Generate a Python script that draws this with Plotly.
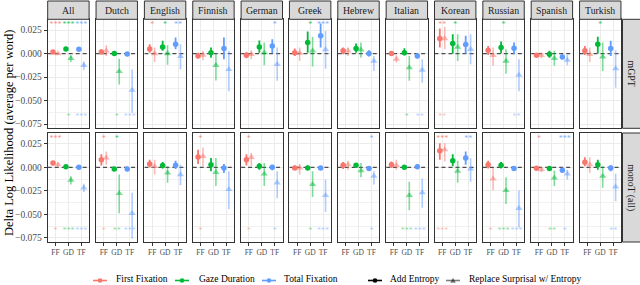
import plotly.graph_objects as go

# ---------------- data ----------------
LANGS = ["All", "Dutch", "English", "Finnish", "German", "Greek", "Hebrew",
         "Italian", "Korean", "Russian", "Spanish", "Turkish"]
MEASURES = ["FF", "GD", "TF"]
MEASURE_NAMES = ["First Fixation", "Gaze Duration", "Total Fixation"]
MODELS = ["mGPT", "monoT (all)"]
TYPES = ["Add Entropy", "Replace Surprisal w/ Entropy"]
Y_TICKS = [-0.075, -0.05, -0.025, 0.0, 0.025]
X_RANGE = [0.4, 3.6]
Y_RANGE = [-0.0795, 0.0365]

# each row: [FF, GD, TF] per language
MGPT_ADD_EST = [[0.0018, 0.005, 0.0047], [0.0018, 0.0, -0.0004], [0.005, 0.007, 0.010],
                [-0.0025, 0.001, 0.0054], [-0.0018, 0.007, 0.008], [0.001, 0.0118, 0.019],
                [0.003, 0.0054, 0.0], [0.0, 0.001, -0.0025], [0.016, 0.0107, 0.0096],
                [0.0036, 0.0064, 0.0057], [-0.0018, -0.0007, -0.0036], [0.003, 0.010, 0.0054]]
MGPT_ADD_LO = [[0.0006, 0.0038, 0.0035], [-0.0007, -0.0018, -0.002], [0.001, 0.0029, 0.0046],
               [-0.005, -0.0043, -0.006], [-0.005, 0.001, 0.0004], [-0.0025, 0.001, 0.0064],
               [-0.0007, 0.001, -0.0032], [-0.0018, -0.0018, -0.005], [0.0064, 0.0, 0.0],
               [-0.0014, 0.0004, -0.0007], [-0.0036, -0.0043, -0.006], [-0.0014, 0.0, -0.0025]]
MGPT_ADD_HI = [[0.003, 0.0062, 0.006], [0.0046, 0.0018, 0.0012], [0.010, 0.0136, 0.017],
               [0.001, 0.0064, 0.017], [0.0018, 0.014, 0.0154], [0.0054, 0.0236, 0.032],
               [0.0064, 0.0107, 0.0036], [0.0018, 0.0057, 0.0], [0.0268, 0.0207, 0.019],
               [0.0082, 0.0129, 0.0118], [0.0, 0.003, -0.0007], [0.0082, 0.018, 0.0136]]

MGPT_REP_EST = [[0.0, -0.005, -0.0125], [0.003, -0.019, -0.039], [0.0, 0.0, -0.003],
                [-0.0015, -0.0125, -0.0168], [-0.0007, 0.001, -0.0114], [0.0004, 0.003, 0.0043],
                [0.003, 0.004, -0.008], [-0.006, -0.015, -0.0175], [0.016, 0.007, 0.0046],
                [-0.0018, -0.008, -0.0229], [-0.0018, -0.005, -0.007], [-0.0007, -0.0036, -0.016]]
MGPT_REP_LO = [[-0.001, -0.009, -0.0175], [-0.0025, -0.033, -0.063], [-0.009, -0.012, -0.017],
               [-0.007, -0.0286, -0.040], [-0.006, -0.0125, -0.029], [-0.008, -0.0136, -0.016],
               [-0.0025, -0.0043, -0.0186], [-0.0096, -0.029, -0.031], [0.0046, -0.008, -0.0114],
               [-0.013, -0.0214, -0.040], [-0.005, -0.013, -0.0125], [-0.009, -0.0186, -0.0364]]
MGPT_REP_HI = [[0.001, -0.002, -0.0085], [0.009, -0.0054, -0.0168], [0.0064, 0.009, 0.010],
               [0.003, -0.0007, 0.003], [0.0036, 0.0118, 0.0064], [0.0064, 0.018, 0.024],
               [0.0064, 0.0118, -0.0025], [-0.0018, -0.0025, -0.006], [0.0286, 0.0207, 0.0207],
               [0.0064, 0.0046, -0.006], [0.001, 0.003, -0.0014], [0.0064, 0.0118, 0.0036]]

MONO_ADD_EST = [[0.0046, 0.0007, 0.0], [0.0081, -0.0018, -0.0018], [0.0035, 0.0018, 0.0021],
                [0.0109, 0.0028, -0.0007], [0.0081, 0.001, 0.0], [-0.0007, -0.0007, -0.0007],
                [0.0021, 0.0021, -0.0014], [0.0028, 0.0, 0.0007], [0.0176, 0.007, 0.0099],
                [0.0028, 0.0021, -0.0014], [-0.001, -0.0014, -0.0032], [0.0053, 0.0028, -0.0007]]
MONO_ADD_LO = [[0.0028, -0.0007, -0.0012], [0.002, -0.0035, -0.003], [0.0, -0.0014, -0.0018],
               [0.0035, -0.0042, -0.006], [0.002, -0.0025, -0.0032], [-0.003, -0.003, -0.0025],
               [-0.0018, -0.0007, -0.0035], [-0.0007, -0.0021, -0.0018], [0.0081, 0.001, 0.0028],
               [-0.0014, -0.0014, -0.0032], [-0.0024, -0.0032, -0.005], [0.001, -0.0025, -0.0042]]
MONO_ADD_HI = [[0.0063, 0.002, 0.0012], [0.014, 0.0, -0.0006], [0.008, 0.0056, 0.007],
               [0.0187, 0.0099, 0.0035], [0.014, 0.0046, 0.0028], [0.002, 0.0018, 0.0011],
               [0.0056, 0.0046, 0.0007], [0.0063, 0.0021, 0.0035], [0.0257, 0.014, 0.0169],
               [0.007, 0.0056, 0.0004], [0.0004, 0.0004, -0.0014], [0.0106, 0.008, 0.0021]]

MONO_REP_EST = [[0.0028, -0.0137, -0.0218], [0.0099, -0.0278, -0.049], [0.001, -0.006, -0.0077],
                [0.0116, -0.0053, -0.0236], [0.0106, -0.007, -0.0165], [-0.0007, -0.0183, -0.030],
                [0.0028, -0.0035, -0.0095], [0.0021, -0.030, -0.027], [0.0187, -0.0042, -0.0018],
                [-0.0123, -0.0246, -0.0437], [-0.0025, -0.0113, -0.007], [0.0028, -0.0095, -0.0208]]
MONO_REP_LO = [[0.0004, -0.0183, -0.0264], [0.0028, -0.049, -0.076], [-0.0077, -0.0165, -0.019],
               [0.001, -0.020, -0.0447], [0.001, -0.020, -0.033], [-0.0077, -0.0317, -0.0475],
               [-0.0025, -0.0106, -0.0183], [-0.0025, -0.0458, -0.043], [0.0063, -0.0165, -0.0155],
               [-0.0243, -0.039, -0.064], [-0.005, -0.020, -0.013], [-0.006, -0.0218, -0.0359]]
MONO_REP_HI = [[0.0053, -0.0095, -0.0176], [0.0169, -0.0077, -0.027], [0.008, 0.001, 0.0028],
               [0.021, 0.0099, -0.0042], [0.0151, 0.0046, -0.0042], [0.0035, -0.0042, -0.013],
               [0.007, 0.0046, -0.0042], [0.008, -0.0155, -0.012], [0.0257, 0.007, 0.0099],
               [-0.0007, -0.0106, -0.0246], [0.0, -0.0035, -0.0025], [0.0106, 0.001, -0.007]]

# significance stars (number of '*'), per language [FF, GD, TF]
MGPT_ADD_STARS = [[3, 3, 3], [0, 0, 0], [1, 1, 2], [0, 0, 0], [0, 0, 1], [0, 1, 3],
                  [0, 0, 0], [0, 0, 0], [2, 1, 0], [0, 1, 0], [0, 0, 0], [0, 1, 0]]
MGPT_REP_STARS = [[0, 1, 3], [0, 1, 3], [0, 0, 0], [0, 0, 0], [0, 0, 0], [0, 0, 0],
                  [0, 0, 0], [0, 1, 2], [2, 0, 0], [0, 0, 2], [0, 0, 0], [0, 0, 0]]
MONO_ADD_STARS = [[3, 0, 0], [1, 1, 0], [0, 0, 0], [1, 0, 0], [1, 0, 0], [0, 0, 0],
                  [0, 0, 1], [0, 0, 0], [3, 0, 2], [0, 0, 0], [1, 0, 3], [0, 0, 0]]
MONO_REP_STARS = [[1, 3, 3], [1, 2, 3], [0, 0, 0], [1, 0, 0], [1, 0, 1], [0, 1, 3],
                  [0, 0, 1], [0, 3, 3], [3, 0, 0], [1, 3, 3], [0, 2, 1], [0, 0, 2]]
STAR_TOP = 0.0300
STAR_BOT = -0.0675

# ---------------- style / layout ----------------
W, H = 640, 285
FONT = "Liberation Serif"
COLORS = [(248, 118, 109), (0, 186, 56), (97, 156, 255)]
ALPHA = [1.0, 0.5]
SYMBOLS = ["circle", "triangle-up"]
MSIZE = [5.5, 6.5]
EWIDTH = [1.8, 1.6]
DODGE = [-0.19, 0.19]
PANEL_X0, PANEL_PITCH, PANEL_W = 47.7, 48.35, 41.4
ROW_TOP = [19.3, 133.0]
ROW_H = 109.0
STRIP_TOP = 1.0
RSTRIP_X0, RSTRIP_X1 = 622.5, 641.0
BORDER = "#333333"
GRID = "#EBEBEB"


def rgba(c, a):
    return "rgba(%d,%d,%d,%s)" % (c[0], c[1], c[2], a)


def px(x):
    return x / W


def py(y):
    return 1 - y / H


DATA = {
    (0, 0): (MGPT_ADD_EST, MGPT_ADD_LO, MGPT_ADD_HI, MGPT_ADD_STARS),
    (0, 1): (MGPT_REP_EST, MGPT_REP_LO, MGPT_REP_HI, MGPT_REP_STARS),
    (1, 0): (MONO_ADD_EST, MONO_ADD_LO, MONO_ADD_HI, MONO_ADD_STARS),
    (1, 1): (MONO_REP_EST, MONO_REP_LO, MONO_REP_HI, MONO_REP_STARS),
}

fig = go.Figure()
layout = dict(width=W, height=H, margin=dict(l=0, r=0, t=0, b=0), autosize=False,
              paper_bgcolor="white", plot_bgcolor="white", showlegend=False,
              font=dict(family=FONT, color="#1A1A1A"))
shapes, annotations = [], []

for r in range(2):
    for c in range(len(LANGS)):
        k = r * len(LANGS) + c + 1
        xs = "x" if k == 1 else "x%d" % k
        ys = "y" if k == 1 else "y%d" % k
        x0 = PANEL_X0 + c * PANEL_PITCH
        x1 = x0 + PANEL_W
        top = ROW_TOP[r]
        bot = top + ROW_H
        xa = dict(domain=[px(x0), px(x1)], anchor=ys, range=X_RANGE,
                  tickvals=[1, 2, 3], ticktext=MEASURES, showgrid=True,
                  gridcolor=GRID, gridwidth=1, zeroline=False, showline=True,
                  mirror=True, linecolor=BORDER, linewidth=1, fixedrange=True)
        if r == 1:
            xa.update(ticks="outside", ticklen=3, tickwidth=1, tickcolor=BORDER,
                      showticklabels=True,
                      tickfont=dict(size=7.5, color="#4D4D4D", family=FONT))
        else:
            xa.update(ticks="", showticklabels=False)
        ya = dict(domain=[py(bot), py(top)], anchor=xs, range=Y_RANGE,
                  tickvals=Y_TICKS, tickformat=".3f", showgrid=True, gridcolor=GRID,
                  gridwidth=1, zeroline=False, showline=True, mirror=True,
                  linecolor=BORDER, linewidth=1, fixedrange=True,
                  minor=dict(tickvals=[-0.0625, -0.0375, -0.0125, 0.0125],
                             showgrid=True, gridcolor="#F2F2F2", gridwidth=0.6, ticks=""))
        if c == 0:
            ya.update(ticks="outside", ticklen=3, tickwidth=1, tickcolor=BORDER,
                      showticklabels=True,
                      tickfont=dict(size=9.5, color="#4D4D4D", family=FONT))
        else:
            ya.update(ticks="", showticklabels=False)
        layout["xaxis" if k == 1 else "xaxis%d" % k] = xa
        layout["yaxis" if k == 1 else "yaxis%d" % k] = ya

        # dashed zero reference line (drawn first, below the points)
        fig.add_trace(go.Scatter(
            x=X_RANGE, y=[0, 0], mode="lines", xaxis=xs, yaxis=ys,
            line=dict(color="#4D4D4D", width=1.2, dash="4px,3px"), hoverinfo="skip"))

        for t in range(2):
            est, lo, hi, stars = DATA[(r, t)]
            for j in range(3):
                col = rgba(COLORS[j], ALPHA[t])
                v, l, h = est[c][j], lo[c][j], hi[c][j]
                fig.add_trace(go.Scatter(
                    x=[j + 1 + DODGE[t]], y=[v], mode="markers", xaxis=xs, yaxis=ys,
                    marker=dict(symbol=SYMBOLS[t], size=MSIZE[t], color=col, line=dict(width=0)),
                    error_y=dict(type="data", symmetric=False, array=[h - v],
                                 arrayminus=[v - l], color=col, thickness=EWIDTH[t], width=0),
                    name="%s %s %s %s" % (MODELS[r], LANGS[c], MEASURES[j], TYPES[t]),
                    hoverinfo="skip"))
            sy = STAR_TOP if t == 0 else STAR_BOT
            fig.add_trace(go.Scatter(
                x=[1, 2, 3], y=[sy] * 3, mode="text", xaxis=xs, yaxis=ys,
                text=["*" * n for n in stars[c]],
                textfont=dict(size=8, family=FONT,
                              color=[rgba(COLORS[j], 0.85 if t == 0 else 0.5) for j in range(3)]),
                textposition="middle center", hoverinfo="skip"))

        # top strips
        if r == 0:
            shapes.append(dict(type="rect", xref="paper", yref="paper",
                               x0=px(x0), x1=px(x1), y0=py(top), y1=py(STRIP_TOP),
                               fillcolor="#D9D9D9", line=dict(color=BORDER, width=1), layer="above"))
            annotations.append(dict(x=px((x0 + x1) / 2), y=py((top + STRIP_TOP) / 2),
                                    xref="paper", yref="paper", text=LANGS[c], showarrow=False,
                                    font=dict(size=9.8, color="#1A1A1A", family=FONT),
                                    xanchor="center", yanchor="middle"))
    # right strips
    top = ROW_TOP[r]
    bot = top + ROW_H
    shapes.append(dict(type="rect", xref="paper", yref="paper",
                       x0=px(RSTRIP_X0), x1=px(RSTRIP_X1), y0=py(bot), y1=py(top),
                       fillcolor="#D9D9D9", line=dict(color=BORDER, width=1), layer="above"))
    annotations.append(dict(x=px((RSTRIP_X0 + 640) / 2), y=py((top + bot) / 2),
                            xref="paper", yref="paper", text=MODELS[r], showarrow=False,
                            textangle=90, font=dict(size=9.8, color="#1A1A1A", family=FONT),
                            xanchor="center", yanchor="middle"))

# y-axis title
annotations.append(dict(x=px(8.5), y=py(132.5), xref="paper", yref="paper",
                        text="Delta Log Likelihood (average per word)", showarrow=False,
                        textangle=-90, font=dict(size=12.5, color="black", family=FONT),
                        xanchor="center", yanchor="middle"))

# legend (drawn as layout decorations)
LEG_Y = 280.5
LEG_TEXT_Y = 279.3
LEG_ITEMS = [(93, 115, rgba(COLORS[0], 1), "circle", MEASURE_NAMES[0]),
             (175, 198, rgba(COLORS[1], 1), "circle", MEASURE_NAMES[1]),
             (262, 283, rgba(COLORS[2], 1), "circle", MEASURE_NAMES[2]),
             (368, 389, "rgba(0,0,0,1)", "circle", TYPES[0]),
             (446, 468, "rgba(0,0,0,0.5)", "triangle", TYPES[1])]
for lx, tx, col, sym, label in LEG_ITEMS:
    shapes.append(dict(type="line", xref="paper", yref="paper", x0=px(lx), x1=px(lx + 14),
                       y0=py(LEG_Y), y1=py(LEG_Y), line=dict(color=col, width=1.6)))
    cx = lx + 7
    if sym == "circle":
        shapes.append(dict(type="circle", xref="paper", yref="paper",
                           x0=px(cx - 2.3), x1=px(cx + 2.3), y0=py(LEG_Y + 2.3), y1=py(LEG_Y - 2.3),
                           fillcolor=col, line=dict(width=0)))
    else:
        shapes.append(dict(type="path", xref="paper", yref="paper",
                           path="M %f,%f L %f,%f L %f,%f Z" % (
                               px(cx - 2.8), py(LEG_Y + 2.2), px(cx + 2.8), py(LEG_Y + 2.2),
                               px(cx), py(LEG_Y - 2.8)),
                           fillcolor=col, line=dict(width=0)))
    annotations.append(dict(x=px(tx), y=py(LEG_TEXT_Y), xref="paper", yref="paper", text=label,
                            showarrow=False, xanchor="left", yanchor="middle", borderpad=0,
                            font=dict(size=9.5, color="black", family=FONT)))

layout["shapes"] = shapes
layout["annotations"] = annotations
fig.update_layout(**layout)
fig.write_html("out.html", config={"displayModeBar": False},
               post_script="document.body.style.margin='0';document.body.style.overflow='hidden';")
